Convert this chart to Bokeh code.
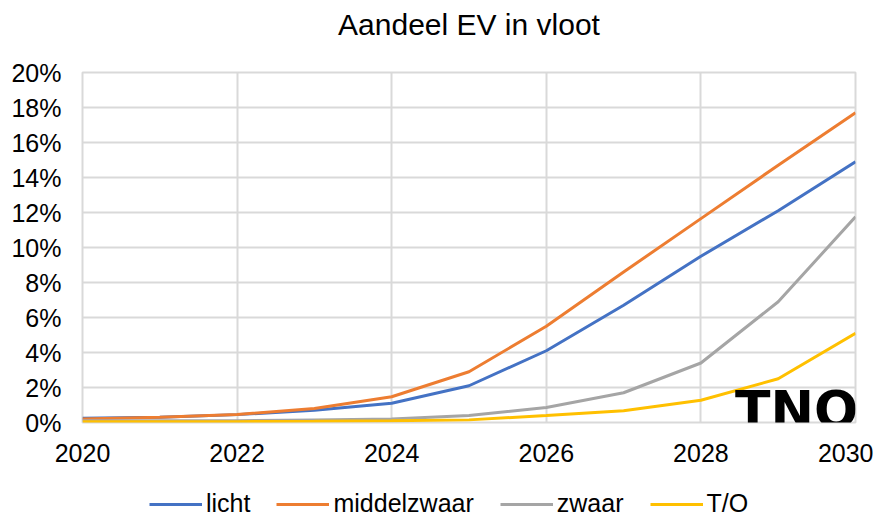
from bokeh.plotting import figure
from bokeh.layouts import column
from bokeh.models import Legend, LegendItem, NumeralTickFormatter, FixedTicker, Label, Range1d, Title
from bokeh.embed import file_html
from bokeh.resources import INLINE

years = [2020, 2021, 2022, 2023, 2024, 2025, 2026, 2027, 2028, 2029, 2030]
licht = [0.25, 0.30, 0.45, 0.70, 1.10, 2.10, 4.10, 6.70, 9.50, 12.10, 14.90]
middelzwaar = [0.20, 0.30, 0.46, 0.80, 1.47, 2.90, 5.50, 8.60, 11.65, 14.70, 17.70]
zwaar = [0.10, 0.10, 0.10, 0.15, 0.20, 0.40, 0.86, 1.70, 3.40, 6.90, 11.75]
t_o = [0.05, 0.05, 0.05, 0.07, 0.10, 0.15, 0.40, 0.67, 1.27, 2.50, 5.10]
series_names = ["licht", "middelzwaar", "zwaar", "T/O"]
colors = ["#4472C4", "#ED7D31", "#A5A5A5", "#FFC000"]
x_ticks = [2020, 2022, 2024, 2026, 2028, 2030]
y_ticks = [0.00, 0.02, 0.04, 0.06, 0.08, 0.10, 0.12, 0.14, 0.16, 0.18, 0.20]
title_text = "Aandeel EV in vloot"
logo_text = "TNO"

FONT = "Liberation Sans"
GRID = "#D9D9D9"
series_values = [licht, middelzwaar, zwaar, t_o]

p = figure(width=873, height=468, output_backend="svg", toolbar_location=None,
           x_range=Range1d(2020, 2030), y_range=Range1d(0, 0.2),
           min_border_left=82, min_border_right=18, min_border_top=72, min_border_bottom=46)

# spacer between frame and title, then the title itself
p.add_layout(Title(text=" ", text_font_size="2px", standoff=28), "above")
p.add_layout(Title(text=title_text, text_font=FONT, text_font_size="30px",
                   text_font_style="normal", align="center", text_color="#000000",
                   standoff=0), "above")

p.outline_line_color = GRID
p.outline_line_width = 2
p.background_fill_color = "white"
p.border_fill_color = "white"

p.xaxis.ticker = FixedTicker(ticks=x_ticks)
p.yaxis.ticker = FixedTicker(ticks=y_ticks)
p.yaxis.formatter = NumeralTickFormatter(format="0%")
for ax in (p.xaxis, p.yaxis):
    ax.axis_line_color = None
    ax.major_tick_line_color = None
    ax.minor_tick_line_color = None
    ax.major_tick_out = 0
    ax.major_tick_in = 0
    ax.major_label_text_font = FONT
    ax.major_label_text_font_size = "25px"
    ax.major_label_text_color = "#000000"
p.yaxis.major_label_standoff = 21
p.xaxis.major_label_standoff = 21

p.xgrid.grid_line_color = GRID
p.xgrid.grid_line_width = 2
p.ygrid.grid_line_color = GRID
p.ygrid.grid_line_width = 2

for name, vals, c in zip(series_names, series_values, colors):
    p.line(years, [v / 100 for v in vals], line_color=c, line_width=3)

logo = Label(x=2028.44, y=0.0074, text=logo_text, text_font="DejaVu Sans",
             text_font_style="bold", text_font_size="52px", text_color="#000000",
             text_baseline="alphabetic", text_align="left")
p.add_layout(logo)

# legend strip below the chart (its lines lie outside its view; only the legend shows)
lg = figure(width=873, height=44, output_backend="svg", toolbar_location=None,
            x_range=Range1d(0, 1), y_range=Range1d(0, 1),
            x_axis_location=None, y_axis_location=None,
            min_border=0, outline_line_color=None)
lg.grid.visible = False
lg.background_fill_color = "white"
lg.border_fill_color = "white"
items = []
for name, vals, c in zip(series_names, series_values, colors):
    r = lg.line(years, [v / 100 for v in vals], line_color=c, line_width=3)
    items.append(LegendItem(label=name, renderers=[r]))
legend = Legend(items=items, orientation="horizontal", location=(67, -6),
                label_text_font=FONT, label_text_font_size="25px", label_text_color="#000000",
                glyph_width=53, glyph_height=24, label_height=24, label_standoff=4,
                spacing=26, padding=0, margin=0,
                border_line_color=None, background_fill_alpha=0)
lg.add_layout(legend)

layout = column(p, lg, spacing=0)
open("out.html", "w").write(file_html(layout, INLINE))
